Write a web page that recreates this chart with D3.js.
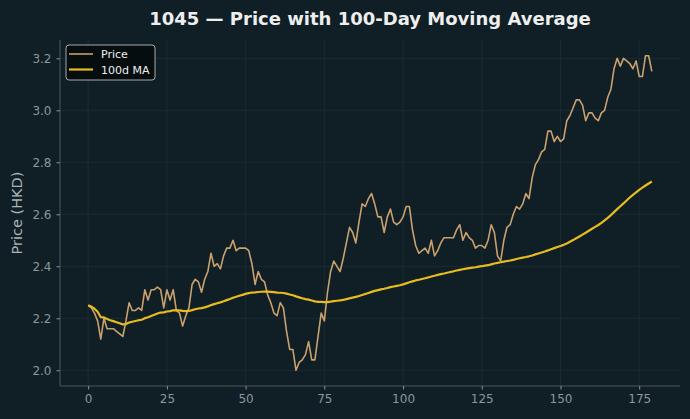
<!DOCTYPE html>
<html>
<head>
<meta charset="utf-8">
<script src="https://cdn.jsdelivr.net/npm/d3@7"></script>
<style>
  html, body { margin: 0; padding: 0; background: #101f26; }
  svg { display: block; font-family: "DejaVu Sans", sans-serif; }
</style>
</head>
<body>
<svg id="chart" width="690" height="419"></svg>
<script>
// closing prices, one per trading day
var prices = [
  2.25, 2.24, 2.22, 2.19, 2.12, 2.20, 2.16, 2.16, 2.16, 2.15,
  2.14, 2.13, 2.19, 2.26, 2.23, 2.23, 2.24, 2.23, 2.31, 2.27,
  2.31, 2.31, 2.32, 2.31, 2.24, 2.31, 2.27, 2.31, 2.23, 2.22,
  2.17, 2.21, 2.24, 2.33, 2.35, 2.34, 2.30, 2.35, 2.38, 2.45,
  2.40, 2.41, 2.39, 2.44, 2.47, 2.47, 2.50, 2.46, 2.47, 2.47,
  2.47, 2.46, 2.41, 2.33, 2.38, 2.35, 2.34, 2.29, 2.26, 2.22,
  2.21, 2.26, 2.24, 2.15, 2.08, 2.08, 2.00, 2.03, 2.04, 2.06,
  2.11, 2.04, 2.04, 2.13, 2.22, 2.19, 2.30, 2.38, 2.42, 2.40,
  2.38, 2.43, 2.49, 2.55, 2.53, 2.49, 2.57, 2.64, 2.63, 2.66,
  2.68, 2.64, 2.59, 2.59, 2.53, 2.59, 2.62, 2.57, 2.56, 2.57,
  2.59, 2.63, 2.63, 2.54, 2.48, 2.45, 2.46, 2.47, 2.45, 2.50,
  2.44, 2.46, 2.49, 2.51, 2.51, 2.51, 2.51, 2.54, 2.56, 2.50,
  2.53, 2.51, 2.50, 2.47, 2.48, 2.48, 2.47, 2.50, 2.56, 2.53,
  2.44, 2.42, 2.50, 2.55, 2.56, 2.60, 2.63, 2.62, 2.64, 2.68,
  2.66, 2.74, 2.79, 2.81, 2.84, 2.85, 2.92, 2.92, 2.88, 2.90,
  2.88, 2.89, 2.96, 2.98, 3.01, 3.04, 3.04, 3.02, 2.96, 2.99,
  2.99, 2.97, 2.96, 2.99, 3.00, 3.05, 3.08, 3.16, 3.20, 3.17,
  3.20, 3.19, 3.18, 3.16, 3.19, 3.13, 3.13, 3.21, 3.21, 3.15
];
var maWindow = 100;
var xTicks = [0, 25, 50, 75, 100, 125, 150, 175];
var yTicks = [2.0, 2.2, 2.4, 2.6, 2.8, 3.0, 3.2];

var priceColor = '#c9a06e';
var maColor = '#e8bb1e';

var svg = d3.select('#chart');
var margin = { top: 40, right: 10, bottom: 33, left: 60 };
var W = 690, H = 419;
var iw = W - margin.left - margin.right;
var ih = H - margin.top - margin.bottom;

// rolling mean, shorter window at the start
var ma = prices.map(function(p, i) {
  return d3.mean(prices.slice(Math.max(0, i - maWindow + 1), i + 1));
});

var n = prices.length;
var xPad = (n - 1) * 0.05;
var x = d3.scaleLinear()
  .domain([-xPad, n - 1 + xPad])
  .range([0, iw]);

var yMin = d3.min(prices), yMax = d3.max(prices);
var yPad = (yMax - yMin) * 0.05;
var y = d3.scaleLinear()
  .domain([yMin - yPad, yMax + yPad])
  .range([ih, 0]);

var g = svg.append('g')
  .attr('transform', 'translate(' + margin.left + ',' + margin.top + ')');

// grid
g.append('g')
  .selectAll('line')
  .data(xTicks)
  .join('line')
  .attr('x1', function(d) { return x(d); })
  .attr('x2', function(d) { return x(d); })
  .attr('y1', 0)
  .attr('y2', ih)
  .attr('stroke', '#1c2e35')
  .attr('stroke-width', 0.8);

g.append('g')
  .selectAll('line')
  .data(yTicks)
  .join('line')
  .attr('x1', 0)
  .attr('x2', iw)
  .attr('y1', function(d) { return y(d); })
  .attr('y2', function(d) { return y(d); })
  .attr('stroke', '#1c2e35')
  .attr('stroke-width', 0.8);

// axes
var xAxis = g.append('g')
  .attr('transform', 'translate(0,' + ih + ')')
  .call(d3.axisBottom(x).tickValues(xTicks).tickSize(3.5).tickPadding(5).tickFormat(d3.format('d')));

var yAxis = g.append('g')
  .call(d3.axisLeft(y).tickValues(yTicks).tickSize(3.5).tickPadding(5).tickFormat(d3.format('.1f')));

[xAxis, yAxis].forEach(function(a) {
  a.select('.domain').attr('stroke', '#4a565b');
  a.selectAll('.tick line').attr('stroke', '#8a9296');
  a.selectAll('.tick text')
    .attr('fill', '#8d9599')
    .attr('font-size', 12)
    .attr('font-family', '"DejaVu Sans", sans-serif');
});
// keep only the left and bottom spines
xAxis.select('.domain').attr('d', 'M0,0H' + iw);
yAxis.select('.domain').attr('d', 'M0,0V' + ih);

// lines
var line = d3.line()
  .x(function(d, i) { return x(i); })
  .y(function(d) { return y(d); });

g.append('path')
  .datum(prices)
  .attr('fill', 'none')
  .attr('stroke', priceColor)
  .attr('stroke-width', 1.6)
  .attr('stroke-linejoin', 'round')
  .attr('d', line);

g.append('path')
  .datum(ma)
  .attr('fill', 'none')
  .attr('stroke', maColor)
  .attr('stroke-width', 2.2)
  .attr('stroke-linejoin', 'round')
  .attr('d', line);

// title
svg.append('text')
  .attr('x', 370)
  .attr('y', 25)
  .attr('text-anchor', 'middle')
  .attr('fill', '#eeeeee')
  .attr('font-size', 18)
  .attr('font-weight', 'bold')
  .text('1045 — Price with 100-Day Moving Average');

// y label
svg.append('text')
  .attr('transform', 'translate(22,' + (margin.top + ih / 2) + ') rotate(-90)')
  .attr('text-anchor', 'middle')
  .attr('fill', '#aab2b6')
  .attr('font-size', 14.5)
  .text('Price (HKD)');

// legend
var legend = g.append('g').attr('transform', 'translate(6,5)');
legend.append('rect')
  .attr('width', 89)
  .attr('height', 35)
  .attr('rx', 3)
  .attr('fill', '#050a0c')
  .attr('fill-opacity', 0.85)
  .attr('stroke', '#b8bcbe')
  .attr('stroke-width', 0.9);

var items = [
  { label: 'Price', color: priceColor, width: 1.6 },
  { label: '100d MA', color: maColor, width: 2.2 }
];
var li = legend.selectAll('g')
  .data(items)
  .join('g')
  .attr('transform', function(d, i) { return 'translate(3,' + (9 + i * 15.5) + ')'; });
li.append('line')
  .attr('x1', 0).attr('x2', 24)
  .attr('stroke', function(d) { return d.color; })
  .attr('stroke-width', function(d) { return d.width; });
li.append('text')
  .attr('x', 32)
  .attr('y', 4)
  .attr('fill', '#eeeeee')
  .attr('font-size', 11)
  .text(function(d) { return d.label; });
</script>
</body>
</html>
